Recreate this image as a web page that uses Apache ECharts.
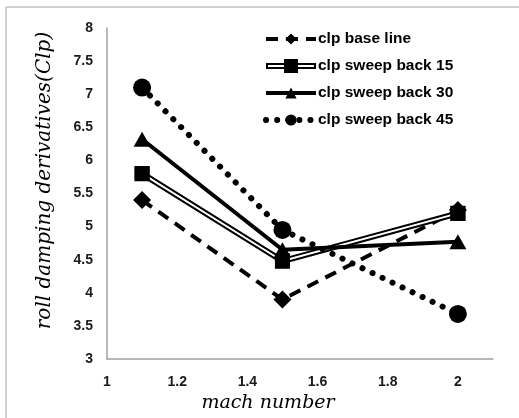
<!DOCTYPE html>
<html>
<head>
<meta charset="utf-8">
<script src="https://cdn.jsdelivr.net/npm/echarts@6/dist/echarts.min.js"></script>
<style>
  html, body { margin: 0; padding: 0; background: #fff; }
  #chart { width: 519px; height: 418px; }
</style>
</head>
<body>
<div id="chart"></div>
<script>
// valores (mach, Clp)
const machValues = [1.1, 1.5, 2];
const baseLine = [5.4, 3.9, 5.25];
const sweepBack15 = [5.8, 4.48, 5.2];
const sweepBack30 = [6.32, 4.65, 4.77];
const sweepBack45 = [7.1, 4.95, 3.68];

const pairs = (ys) => machValues.map((x, i) => [x, ys[i]]);

const chart = echarts.init(document.getElementById('chart'));

const labelFont = { fontFamily: 'Liberation Sans', fontWeight: 'bold', fontSize: 14, color: '#1a1a1a' };
const titleFont = { fontFamily: 'DejaVu Serif', fontStyle: 'italic', color: '#000' };

// icono de leyenda para la linea doble (sweep back 15)
const doubleLineIcon = 'path://M0,4L19,4L19,10L0,10Z M2,6L2,8L19,8L19,6Z'
  + ' M31,4L50,4L50,10L31,10Z M31,6L31,8L48,8L48,6Z M18,0L32,0L32,14L18,14Z';

chart.setOption({
  animation: false,
  backgroundColor: '#fff',
  graphic: [{
    type: 'rect',
    shape: { x: 6, y: 7, width: 530, height: 430 },
    style: { fill: 'none', stroke: '#a6a6a6', lineWidth: 1 },
    silent: true,
  }],
  grid: { left: 107, right: 26, top: 28, bottom: 59 },
  legend: {
    orient: 'vertical',
    left: 263,
    top: 31,
    padding: 0,
    itemWidth: 50,
    itemHeight: 14,
    itemGap: 11,
    textStyle: { fontFamily: 'Liberation Sans', fontWeight: 'bold', fontSize: 15.5, color: '#000', padding: [0, 0, 0, -3] },
    data: [
      { name: 'clp base line', lineStyle: { width: 4 } },
      { name: 'clp sweep back 15', icon: doubleLineIcon },
      { name: 'clp sweep back 30', lineStyle: { width: 4 } },
      { name: 'clp sweep back 45', lineStyle: { width: 6 } },
    ],
  },
  xAxis: {
    type: 'value',
    min: 1,
    max: 2.1,
    interval: 0.2,
    name: 'mach number',
    nameLocation: 'middle',
    nameGap: 33,
    nameTextStyle: { ...titleFont, fontSize: 19, padding: [0, 64, 0, 0] },
    axisLine: { show: true, lineStyle: { color: '#a0a0a0', width: 1.5 } },
    axisTick: { show: false },
    splitLine: { show: false },
    axisLabel: { ...labelFont, margin: 16, showMaxLabel: false },
  },
  yAxis: {
    type: 'value',
    min: 3,
    max: 8,
    interval: 0.5,
    name: 'roll damping derivatives(Clp)',
    nameLocation: 'middle',
    nameRotate: 90,
    nameGap: 52,
    nameTextStyle: { ...titleFont, fontSize: 20, padding: [0, 0, 0, 26] },
    axisLine: { show: true, lineStyle: { color: '#a0a0a0', width: 1.5 } },
    axisTick: { show: false },
    splitLine: { show: false },
    axisLabel: { ...labelFont, margin: 14 },
  },
  series: [
    {
      name: 'clp base line',
      type: 'line',
      data: pairs(baseLine),
      symbol: 'diamond',
      symbolSize: [18, 18],
      itemStyle: { color: '#000' },
      lineStyle: { color: '#000', width: 4, type: [12, 8] },
    },
    {
      name: 'clp sweep back 15',
      type: 'line',
      data: pairs(sweepBack15),
      symbol: 'rect',
      symbolSize: 15,
      itemStyle: { color: '#000' },
      lineStyle: { color: '#000', width: 6 },
    },
    {
      // linea interior blanca (linea doble)
      name: 'sweep15-inner',
      type: 'line',
      data: pairs(sweepBack15),
      symbol: 'rect',
      symbolSize: 15,
      itemStyle: { color: '#000' },
      lineStyle: { color: '#fff', width: 2 },
    },
    {
      name: 'clp sweep back 30',
      type: 'line',
      data: pairs(sweepBack30),
      symbol: 'triangle',
      symbolSize: [17, 15],
      itemStyle: { color: '#000' },
      lineStyle: { color: '#000', width: 4 },
    },
    {
      name: 'clp sweep back 45',
      type: 'line',
      data: pairs(sweepBack45),
      symbol: 'circle',
      symbolSize: 18,
      itemStyle: { color: '#000' },
      lineStyle: { color: '#000', width: 6, type: [0.1, 11], cap: 'round' },
    },
  ],
});
</script>
</body>
</html>
